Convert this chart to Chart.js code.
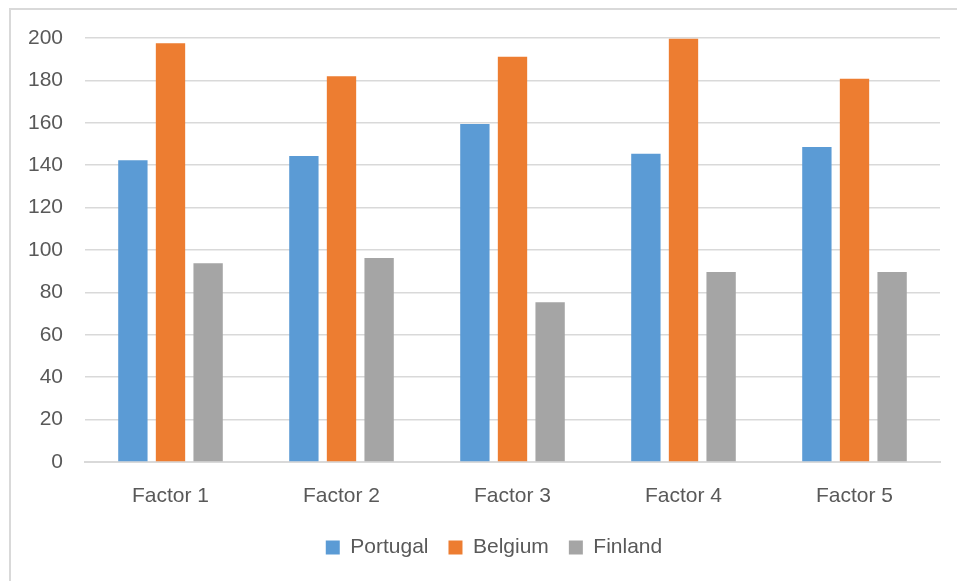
<!DOCTYPE html>
<html>
<head>
<meta charset="utf-8">
<script src="https://cdn.jsdelivr.net/npm/chart.js@4/dist/chart.umd.min.js"></script>
<style>
  html, body { margin: 0; padding: 0; background: #fff; overflow: hidden; }
  .frame { position: absolute; left: 9px; top: 8px; width: 980px; height: 600px; border: 2px solid #d9d9d9; }
  .wrap { position: absolute; left: 0; top: 0; width: 957px; height: 581px; }
</style>
</head>
<body>
<div class="frame"></div>
<div class="wrap"><canvas id="factorChart" width="957" height="581"></canvas></div>
<script>
const categories = ['Factor 1', 'Factor 2', 'Factor 3', 'Factor 4', 'Factor 5'];
const portugal = [142.3, 144.3, 159.4, 145.4, 148.6];
const belgium = [197.5, 182, 191.1, 199.6, 180.8];
const finland = [93.8, 96.2, 75.4, 89.6, 89.6];
const yTicks = [0, 20, 40, 60, 80, 100, 120, 140, 160, 180, 200];

const textColor = '#595959';
const gridColor = '#d9d9d9';
const font = { family: '"Liberation Sans", Arial, sans-serif', size: 21 };

const makeSet = (label, data, color) => ({
  label,
  data,
  backgroundColor: color,
  borderWidth: 0,
  barPercentage: 0.78,
  categoryPercentage: 0.66
});

// legend sits a bit right of the canvas centre in the original
const shiftLegend = {
  id: 'shiftLegend',
  afterLayout: (chart) => {
    if (!chart.legend) return;
    chart.legend.left += 24;
    chart.legend.right += 24;
  }
};

new Chart(document.getElementById('factorChart'), {
  type: 'bar',
  data: {
    labels: categories,
    datasets: [
      makeSet('Portugal', portugal, '#5b9bd5'),
      makeSet('Belgium', belgium, '#ed7d31'),
      makeSet('Finland', finland, '#a5a5a5')
    ]
  },
  options: {
    responsive: false,
    animation: false,
    layout: { padding: { left: 0, right: 17, top: 38, bottom: 13 } },
    plugins: {
      tooltip: { enabled: false },
      legend: {
        position: 'bottom',
        labels: { color: textColor, font, boxWidth: 14, boxHeight: 14, padding: 20 }
      }
    },
    scales: {
      x: {
        grid: { display: false, drawTicks: false },
        border: { color: gridColor, width: 2 },
        ticks: { color: textColor, font, padding: 22 },
        afterFit: (scale) => { scale.height = 55; }
      },
      y: {
        min: 0,
        max: 200,
        afterBuildTicks: (scale) => { scale.ticks = yTicks.map((value) => ({ value })); },
        grid: { color: gridColor, lineWidth: 1.6, drawTicks: false },
        border: { display: false },
        ticks: { color: textColor, font, padding: 22 },
        afterFit: (scale) => { scale.width = 85; }
      }
    }
  },
  plugins: [shiftLegend]
});
</script>
</body>
</html>
